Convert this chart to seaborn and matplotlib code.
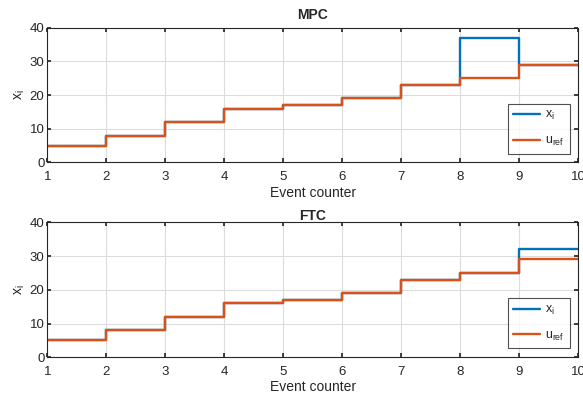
import matplotlib
matplotlib.use('Agg')
import matplotlib.pyplot as plt
import numpy as np
import pandas as pd
import seaborn as sns

# event counter and step values
events = [1, 2, 3, 4, 5, 6, 7, 8, 9, 10]
u_ref = [5, 8, 12, 16, 17, 19, 23, 25, 29, 29]
x_mpc = [5, 8, 12, 16, 17, 19, 23, 37, 29, 29]
x_ftc = [5, 8, 12, 16, 17, 19, 23, 25, 32, 32]

sns.set_theme(style='whitegrid')
plt.rcParams['font.family'] = ['Liberation Sans', 'DejaVu Sans']
plt.rcParams['mathtext.default'] = 'regular'

blue = '#0072BD'
orange = '#D95319'

fig, axes = plt.subplots(2, 1, figsize=(5.83, 3.96), dpi=100)
fig.subplots_adjust(left=0.081, right=0.992, top=0.93, bottom=0.098, hspace=0.445)

for ax, xi, title, tpad in zip(axes, [x_mpc, x_ftc], ['MPC', 'FTC'], [6, 2]):
    df = pd.DataFrame({'event': events, 'xi': xi, 'uref': u_ref})
    sns.lineplot(data=df, x='event', y='xi', ax=ax, color=blue, lw=1.7,
                 drawstyle='steps-post', label='$x_i$')
    sns.lineplot(data=df, x='event', y='uref', ax=ax, color=orange, lw=1.7,
                 drawstyle='steps-post', label='$u_{ref}$')
    ax.set_xlim(1, 10)
    ax.set_ylim(0, 40)
    ax.set_xticks(range(1, 11))
    ax.set_yticks([0, 10, 20, 30, 40])
    ax.set_title(title, fontsize=10, fontweight='bold', pad=tpad)
    ax.set_xlabel('Event counter', fontsize=10, labelpad=2, color='#262626')
    ax.set_ylabel('$x_i$', fontsize=10, labelpad=2, color='#262626')
    ax.grid(True, color='#dcdcdc', lw=0.8)
    ax.tick_params(direction='in', length=3, labelsize=9.5, colors='#262626',
                   top=True, right=True, bottom=True, left=True, pad=2)
    ax.tick_params(axis='x', pad=6)
    for s in ax.spines.values():
        s.set_color('#262626')
        s.set_linewidth(0.8)
    leg = ax.legend(loc='lower right', fontsize=9, frameon=True, fancybox=False,
                    handlelength=2.1, borderaxespad=0.7, labelspacing=1.0,
                    borderpad=0.45, handletextpad=0.4)
    leg.get_frame().set_edgecolor('#262626')
    leg.get_frame().set_linewidth(0.8)

fig.savefig('out.png', dpi=100)
